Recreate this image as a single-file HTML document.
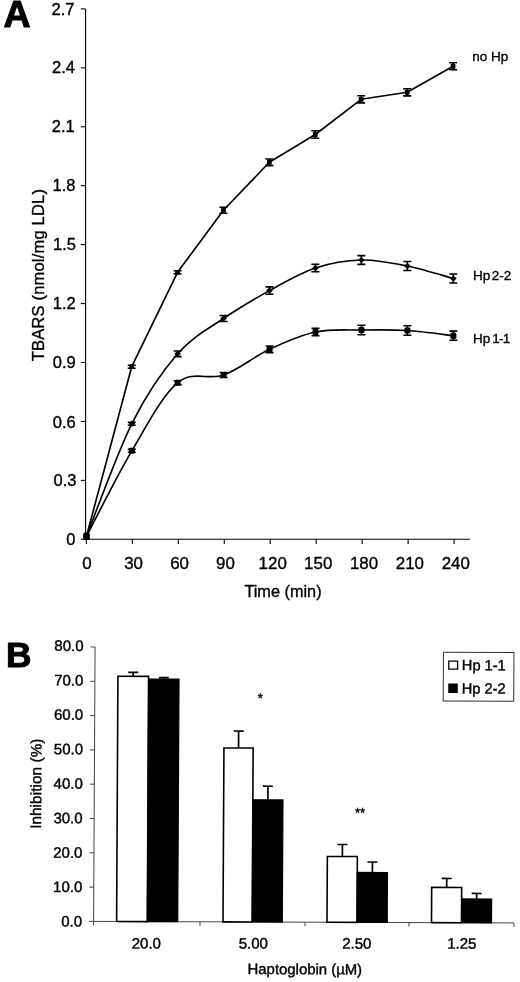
<!DOCTYPE html>
<html lang="en"><head><meta charset="utf-8"><title>Figure</title>
<style>html,body{margin:0;padding:0;background:#fff;}body{width:520px;height:982px;overflow:hidden;}svg{display:block;}text{font-family:"Liberation Sans", Arial, Helvetica, sans-serif;fill:#000;stroke:#000;stroke-width:0.35px;}#panelB text{stroke-width:0.42px;}text.big{stroke-width:1px;stroke-linejoin:round;}</style>
</head><body>
<svg width="520" height="982" viewBox="0 0 520 982">
<rect width="520" height="982" fill="#fff"/>
<g id="panelA">
<text transform="translate(3.4 27.3) scale(1.035 1)" font-size="36.2" font-weight="bold" class="big">A</text>
<g stroke="#000" stroke-width="1.1" fill="none">
<path d="M85.6 8.9 V539.3 H469.8"/>
<path d="M80.8 539.30 H85.6"/>
<path d="M80.8 480.37 H85.6"/>
<path d="M80.8 421.43 H85.6"/>
<path d="M80.8 362.50 H85.6"/>
<path d="M80.8 303.57 H85.6"/>
<path d="M80.8 244.63 H85.6"/>
<path d="M80.8 185.70 H85.6"/>
<path d="M80.8 126.77 H85.6"/>
<path d="M80.8 67.83 H85.6"/>
<path d="M80.8 8.90 H85.6"/>
<path d="M86.40 539.3 V544.1"/>
<path d="M132.36 539.3 V544.1"/>
<path d="M178.32 539.3 V544.1"/>
<path d="M224.28 539.3 V544.1"/>
<path d="M270.24 539.3 V544.1"/>
<path d="M316.20 539.3 V544.1"/>
<path d="M362.16 539.3 V544.1"/>
<path d="M408.12 539.3 V544.1"/>
<path d="M454.08 539.3 V544.1"/>
</g>
<g font-size="16.5" text-anchor="end">
<text x="75.5" y="545.0">0</text>
<text x="76.4" y="486.3">0.3</text>
<text x="75.7" y="427.5">0.6</text>
<text x="75.8" y="368.4">0.9</text>
<text x="75.7" y="308.9">1.2</text>
<text x="76.0" y="249.5">1.5</text>
<text x="75.5" y="190.8">1.8</text>
<text x="74.8" y="131.5">2.1</text>
<text x="74.9" y="72.6">2.4</text>
<text x="74.5" y="15.2">2.7</text>
</g>
<g font-size="16.9" text-anchor="middle">
<text x="86.9" y="568.8">0</text>
<text x="133.6" y="568.8">30</text>
<text x="179.6" y="568.8">60</text>
<text x="225.5" y="568.8">90</text>
<text x="272.7" y="568.8">120</text>
<text x="318.2" y="568.8">150</text>
<text x="364.0" y="568.8">180</text>
<text x="409.9" y="568.8">210</text>
<text x="455.8" y="568.8">240</text>
</g>
<text x="283" y="596.7" font-size="16.3" text-anchor="middle">Time (min)</text>
<text transform="translate(43.5 275.1) rotate(-90)" font-size="16.5" letter-spacing="0.2" text-anchor="middle">TBARS (nmol/mg LDL)</text>
<g transform="matrix(1 0 0.0012 1 -1.1 0)">
<g stroke="#000" stroke-width="1.65" fill="none" stroke-linejoin="round">
<path d="M86.94 536.30 C86.94 536.30 132.36 366.70 132.36 366.70 C132.36 366.70 178.32 272.30 178.32 272.30 C178.32 272.30 224.28 210.30 224.28 210.30 C224.28 210.30 270.24 162.30 270.24 162.30 C270.24 162.30 316.20 134.50 316.20 134.50 C316.20 134.50 362.16 99.30 362.16 99.30 C362.16 99.30 408.12 92.30 408.12 92.30 C408.12 92.30 454.08 66.30 454.08 66.30"/>
<path d="M86.94 536.30 C94.51 517.55 117.13 454.22 132.36 423.80 C147.59 393.38 163.00 371.35 178.32 353.80 C193.64 336.25 208.96 329.03 224.28 318.50 C239.60 307.97 254.92 299.02 270.24 290.60 C285.56 282.18 300.88 273.10 316.20 268.00 C331.52 262.90 346.84 260.33 362.16 260.00 C377.48 259.67 392.80 262.92 408.12 266.00 C423.44 269.08 446.42 276.42 454.08 278.50"/>
<path d="M86.94 536.30 C94.51 522.05 117.13 476.40 132.36 450.80 C147.59 425.20 163.00 395.33 178.32 382.70 C193.64 370.07 208.96 380.57 224.28 375.00 C239.60 369.43 254.92 356.47 270.24 349.30 C285.56 342.13 300.88 335.22 316.20 332.00 C331.52 328.78 346.84 330.25 362.16 330.00 C377.48 329.75 392.80 329.55 408.12 330.50 C423.44 331.45 446.42 334.83 454.08 335.70"/>
</g>
<rect x="83.74" y="532.50" width="6.4" height="7.4" rx="1.5" fill="#000"/>
<rect x="84.54" y="533.90" width="4.8" height="4.8" rx="0.6" fill="#000"/>
<path d="M132.36 365.20 V368.20 M128.36 365.20 H136.36 M128.36 368.20 H136.36" stroke="#000" stroke-width="1.6" fill="none"/>
<rect x="129.96" y="364.30" width="4.8" height="4.8" rx="0.6" fill="#000"/>
<path d="M178.32 270.80 V273.80 M174.32 270.80 H182.32 M174.32 273.80 H182.32" stroke="#000" stroke-width="1.6" fill="none"/>
<rect x="175.92" y="269.90" width="4.8" height="4.8" rx="0.6" fill="#000"/>
<path d="M224.28 207.30 V213.30 M220.28 207.30 H228.28 M220.28 213.30 H228.28" stroke="#000" stroke-width="1.6" fill="none"/>
<rect x="221.88" y="207.90" width="4.8" height="4.8" rx="0.6" fill="#000"/>
<path d="M270.24 159.00 V165.60 M266.24 159.00 H274.24 M266.24 165.60 H274.24" stroke="#000" stroke-width="1.6" fill="none"/>
<rect x="267.84" y="159.90" width="4.8" height="4.8" rx="0.6" fill="#000"/>
<path d="M316.20 130.70 V138.30 M312.20 130.70 H320.20 M312.20 138.30 H320.20" stroke="#000" stroke-width="1.6" fill="none"/>
<rect x="313.80" y="132.10" width="4.8" height="4.8" rx="0.6" fill="#000"/>
<path d="M362.16 95.70 V102.90 M358.16 95.70 H366.16 M358.16 102.90 H366.16" stroke="#000" stroke-width="1.6" fill="none"/>
<rect x="359.76" y="96.90" width="4.8" height="4.8" rx="0.6" fill="#000"/>
<path d="M408.12 88.70 V95.90 M404.12 88.70 H412.12 M404.12 95.90 H412.12" stroke="#000" stroke-width="1.6" fill="none"/>
<rect x="405.72" y="89.90" width="4.8" height="4.8" rx="0.6" fill="#000"/>
<path d="M454.08 62.80 V69.80 M450.08 62.80 H458.08 M450.08 69.80 H458.08" stroke="#000" stroke-width="1.6" fill="none"/>
<rect x="451.68" y="63.90" width="4.8" height="4.8" rx="0.6" fill="#000"/>
<path d="M86.94 533.00 l3.3 3.3 l-3.3 3.3 l-3.3 -3.3z" fill="#000"/>
<path d="M132.36 422.30 V425.30 M128.36 422.30 H136.36 M128.36 425.30 H136.36" stroke="#000" stroke-width="1.6" fill="none"/>
<path d="M132.36 420.50 l3.3 3.3 l-3.3 3.3 l-3.3 -3.3z" fill="#000"/>
<path d="M178.32 351.00 V356.60 M174.32 351.00 H182.32 M174.32 356.60 H182.32" stroke="#000" stroke-width="1.6" fill="none"/>
<path d="M178.32 350.50 l3.3 3.3 l-3.3 3.3 l-3.3 -3.3z" fill="#000"/>
<path d="M224.28 315.50 V321.50 M220.28 315.50 H228.28 M220.28 321.50 H228.28" stroke="#000" stroke-width="1.6" fill="none"/>
<path d="M224.28 315.20 l3.3 3.3 l-3.3 3.3 l-3.3 -3.3z" fill="#000"/>
<path d="M270.24 286.90 V294.30 M266.24 286.90 H274.24 M266.24 294.30 H274.24" stroke="#000" stroke-width="1.6" fill="none"/>
<path d="M270.24 287.30 l3.3 3.3 l-3.3 3.3 l-3.3 -3.3z" fill="#000"/>
<path d="M316.20 264.30 V271.70 M312.20 264.30 H320.20 M312.20 271.70 H320.20" stroke="#000" stroke-width="1.6" fill="none"/>
<path d="M316.20 264.70 l3.3 3.3 l-3.3 3.3 l-3.3 -3.3z" fill="#000"/>
<path d="M362.16 255.60 V264.40 M358.16 255.60 H366.16 M358.16 264.40 H366.16" stroke="#000" stroke-width="1.6" fill="none"/>
<path d="M362.16 256.70 l3.3 3.3 l-3.3 3.3 l-3.3 -3.3z" fill="#000"/>
<path d="M408.12 261.50 V270.50 M404.12 261.50 H412.12 M404.12 270.50 H412.12" stroke="#000" stroke-width="1.6" fill="none"/>
<path d="M408.12 262.70 l3.3 3.3 l-3.3 3.3 l-3.3 -3.3z" fill="#000"/>
<path d="M454.08 274.00 V283.00 M450.08 274.00 H458.08 M450.08 283.00 H458.08" stroke="#000" stroke-width="1.6" fill="none"/>
<path d="M454.08 275.20 l3.3 3.3 l-3.3 3.3 l-3.3 -3.3z" fill="#000"/>
<rect x="83.94" y="533.30" width="6" height="6" rx="1.2" fill="#000"/>
<path d="M132.36 449.30 V452.30 M128.36 449.30 H136.36 M128.36 452.30 H136.36" stroke="#000" stroke-width="1.6" fill="none"/>
<rect x="129.36" y="447.80" width="6" height="6" rx="1.2" fill="#000"/>
<path d="M178.32 380.70 V384.70 M174.32 380.70 H182.32 M174.32 384.70 H182.32" stroke="#000" stroke-width="1.6" fill="none"/>
<rect x="175.32" y="379.70" width="6" height="6" rx="1.2" fill="#000"/>
<path d="M224.28 372.50 V377.50 M220.28 372.50 H228.28 M220.28 377.50 H228.28" stroke="#000" stroke-width="1.6" fill="none"/>
<rect x="221.28" y="372.00" width="6" height="6" rx="1.2" fill="#000"/>
<path d="M270.24 346.00 V352.60 M266.24 346.00 H274.24 M266.24 352.60 H274.24" stroke="#000" stroke-width="1.6" fill="none"/>
<rect x="267.24" y="346.30" width="6" height="6" rx="1.2" fill="#000"/>
<path d="M316.20 328.20 V335.80 M312.20 328.20 H320.20 M312.20 335.80 H320.20" stroke="#000" stroke-width="1.6" fill="none"/>
<rect x="313.20" y="329.00" width="6" height="6" rx="1.2" fill="#000"/>
<path d="M362.16 325.20 V334.80 M358.16 325.20 H366.16 M358.16 334.80 H366.16" stroke="#000" stroke-width="1.6" fill="none"/>
<rect x="359.16" y="327.00" width="6" height="6" rx="1.2" fill="#000"/>
<path d="M408.12 325.70 V335.30 M404.12 325.70 H412.12 M404.12 335.30 H412.12" stroke="#000" stroke-width="1.6" fill="none"/>
<rect x="405.12" y="327.50" width="6" height="6" rx="1.2" fill="#000"/>
<path d="M454.08 331.10 V340.30 M450.08 331.10 H458.08 M450.08 340.30 H458.08" stroke="#000" stroke-width="1.6" fill="none"/>
<rect x="451.08" y="332.70" width="6" height="6" rx="1.2" fill="#000"/>
</g>
<g font-size="13.5">
<text x="472.3" y="61.3">no Hp</text>
<text x="473" y="280" word-spacing="-2.2">Hp 2-2</text>
<text x="473" y="342.5" word-spacing="-1.8">Hp <tspan letter-spacing="-0.7">1-1</tspan></text>
</g>
</g>
<text x="5.9" y="666.9" font-size="35.3" font-weight="bold" class="big">B</text>
<g id="panelB" transform="matrix(1 0.00360 -0.00540 1 4.9756 -0.3370)">
<g stroke="#3a3a3a" stroke-width="0.95" fill="none">
<path d="M93.6 647.0 V921.4 H514"/>
<path d="M89.1 921.40 H93.6"/>
<path d="M89.1 887.10 H93.6"/>
<path d="M89.1 852.80 H93.6"/>
<path d="M89.1 818.50 H93.6"/>
<path d="M89.1 784.20 H93.6"/>
<path d="M89.1 749.90 H93.6"/>
<path d="M89.1 715.60 H93.6"/>
<path d="M89.1 681.30 H93.6"/>
<path d="M89.1 647.00 H93.6"/>
<path d="M93.6 921.4 V925.4"/>
<path d="M200.0 921.4 V925.4"/>
<path d="M305.0 921.4 V925.4"/>
<path d="M409.0 921.4 V925.4"/>
<path d="M514.0 921.4 V925.4"/>
</g>
<g font-size="15" text-anchor="end">
<text x="82.1" y="926.7">0.0</text>
<text x="82.1" y="892.2">10.0</text>
<text x="82.1" y="857.8">20.0</text>
<text x="82.1" y="823.3">30.0</text>
<text x="82.1" y="788.9">40.0</text>
<text x="82.1" y="754.4">50.0</text>
<text x="82.1" y="719.9">60.0</text>
<text x="82.1" y="685.5">70.0</text>
<text x="82.1" y="651.0">80.0</text>
</g>
<path d="M131.9 676.2 V672.2 M126.9 672.2 H136.9" stroke="#000" stroke-width="1.7" fill="none"/>
<path d="M162.5 678.8 V677.3 M157.5 677.3 H167.5" stroke="#000" stroke-width="1.7" fill="none"/>
<rect x="116.6" y="676.2" width="30.7" height="245.2" fill="#fff" stroke="#000" stroke-width="1.6"/>
<rect x="147.3" y="678.8" width="30.4" height="242.6" fill="#000" stroke="#000" stroke-width="1.2"/>
<path d="M237.6 747.5 V730.5 M232.6 730.5 H242.6" stroke="#000" stroke-width="1.7" fill="none"/>
<path d="M267.2 799.2 V785.6 M262.2 785.6 H272.2" stroke="#000" stroke-width="1.7" fill="none"/>
<rect x="223.0" y="747.5" width="29.2" height="173.9" fill="#fff" stroke="#000" stroke-width="1.6"/>
<rect x="252.2" y="799.2" width="30.1" height="122.2" fill="#000" stroke="#000" stroke-width="1.2"/>
<path d="M342.0 855.6 V843.6 M337.0 843.6 H347.0" stroke="#000" stroke-width="1.7" fill="none"/>
<path d="M372.1 871.5 V861.0 M367.1 861.0 H377.1" stroke="#000" stroke-width="1.7" fill="none"/>
<rect x="327.0" y="855.6" width="30.0" height="65.8" fill="#fff" stroke="#000" stroke-width="1.6"/>
<rect x="357.0" y="871.5" width="30.2" height="49.9" fill="#000" stroke="#000" stroke-width="1.2"/>
<path d="M446.5 886.2 V877.2 M441.5 877.2 H451.5" stroke="#000" stroke-width="1.7" fill="none"/>
<path d="M476.5 897.6 V892.1 M471.5 892.1 H481.5" stroke="#000" stroke-width="1.7" fill="none"/>
<rect x="431.5" y="886.2" width="30.0" height="35.2" fill="#fff" stroke="#000" stroke-width="1.6"/>
<rect x="461.5" y="897.6" width="30.0" height="23.8" fill="#000" stroke="#000" stroke-width="1.2"/>
<g font-size="15" text-anchor="middle">
<text x="146.5" y="948.4">20.0</text>
<text x="253.5" y="948.0">5.00</text>
<text x="357.0" y="947.7">2.50</text>
<text x="462.0" y="947.3">1.25</text>
</g>
<text x="305.1" y="973.5" font-size="14.9" text-anchor="middle">Haptoglobin (µM)</text>
<text transform="translate(40.5 783.9) rotate(-90)" font-size="15.2" letter-spacing="0.12" text-anchor="middle">Inhibition (%)</text>
<text x="259.0" y="701.9" font-size="13" text-anchor="middle">*</text>
<text x="359.4" y="816.0" font-size="13" text-anchor="middle">**</text>
<g transform="translate(442.0 651.0)">
<rect x="0" y="0" width="70.5" height="48.7" fill="#fff" stroke="#333" stroke-width="1"/>
<rect x="5.4" y="8.9" width="8.8" height="8" fill="#fff" stroke="#000" stroke-width="1.3"/>
<rect x="5" y="31.3" width="9.5" height="9.4" fill="#000"/>
<g font-size="14.6"><text x="18.5" y="17.8">Hp 1-1</text><text x="18.5" y="41.1">Hp 2-2</text></g>
</g>
</g>
</svg></body></html>
